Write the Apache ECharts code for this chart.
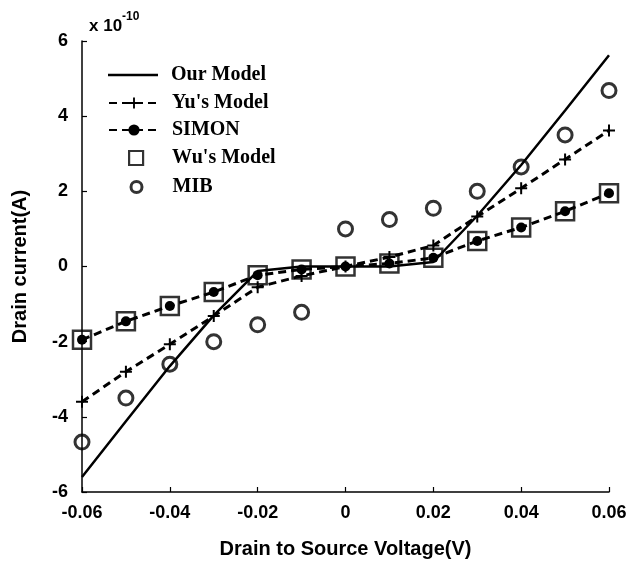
<!DOCTYPE html>
<html>
<head>
<meta charset="utf-8">
<script src="https://cdn.jsdelivr.net/npm/echarts@6/dist/echarts.min.js"></script>
<style>
  html, body { margin: 0; padding: 0; background: #fff; }
  #chart { width: 633px; height: 564px; }
</style>
</head>
<body>
<div id="chart"></div>
<script>
// Drain-source voltage sweep (V)
const vds = [-0.06, -0.05, -0.04, -0.03, -0.02, -0.01, 0, 0.01, 0.02, 0.03, 0.04, 0.05, 0.06];

// Drain current, in units of 1e-10 A
const ourModel = [-5.6, -4.12, -2.65, -1.3, -0.12, 0, 0, 0, 0.12, 1.35, 2.7, 4.15, 5.62];
const yuModel  = [-3.6, -2.8, -2.07, -1.32, -0.55, -0.25, 0, 0.25, 0.56, 1.33, 2.08, 2.85, 3.62];
const simon    = [-1.95, -1.46, -1.05, -0.68, -0.23, -0.08, 0, 0.08, 0.23, 0.68, 1.04, 1.47, 1.95];
const wuModel  = [-1.95, -1.46, -1.05, -0.68, -0.23, -0.08, 0, 0.08, 0.23, 0.68, 1.04, 1.47, 1.95];
const mib      = [-4.67, -3.5, -2.6, -2.0, -1.55, -1.22, 1.0, 1.25, 1.55, 2.0, 2.65, 3.5, 4.68];

const xTicks = [-0.06, -0.04, -0.02, 0, 0.02, 0.04, 0.06];
const yTicks = [-6, -4, -2, 0, 2, 4, 6];

const pairs = ys => vds.map((x, i) => [x, ys[i]]);

const SANS = '"Liberation Sans", Arial, sans-serif';
const SERIF = '"Liberation Serif", "Times New Roman", serif';
const PLUS = 'path://M5,0H7V5H12V7H7V12H5V7H0V5H5Z';

// One legend block per entry so every key can sit on its own row
function legendAt(item, left, top, w, h, padLeft) {
  return {
    data: [item], left: left, top: top, itemWidth: w, itemHeight: h, padding: 0,
    selectedMode: false, inactiveColor: '#000',
    textStyle: { fontFamily: SERIF, fontWeight: 'bold', fontSize: 20, color: '#000', padding: [0, 0, 0, padLeft] }
  };
}

const chart = echarts.init(document.getElementById('chart'), null, { renderer: 'canvas' });
chart.setOption({
  backgroundColor: '#fff',
  animation: false,
  title: {
    left: 84, top: 6,
    text: '{a|x 10}{b|-10}',
    textStyle: {
      rich: {
        a: { fontFamily: SANS, fontWeight: 'bold', fontSize: 17, color: '#000', verticalAlign: 'bottom', lineHeight: 24 },
        b: { fontFamily: SANS, fontWeight: 'bold', fontSize: 12, color: '#000', verticalAlign: 'top', lineHeight: 24, padding: [0, 0, 12, 0] }
      }
    }
  },
  legend: [
    legendAt({ name: 'Our Model', icon: 'path://M0,0H50V2.5H0Z', itemStyle: { color: '#000', borderWidth: 0 } },
             108, 65, 50, 14, 8),
    legendAt({ name: "Yu's Model" }, 108, 93, 50, 14, 8),
    legendAt({ name: 'SIMON' }, 108, 120, 50, 14, 8),
    legendAt({ name: "Wu's Model", icon: 'path://M0,0H10V10H0Z',
               itemStyle: { color: 'rgba(0,0,0,0)', borderColor: '#000', borderWidth: 2.2 } },
             128, 148, 14, 14, 24),
    legendAt({ name: 'MIB', icon: 'circle',
               itemStyle: { color: 'rgba(0,0,0,0)', borderColor: '#000', borderWidth: 3 } },
             129.5, 177, 11, 11, 25.5)
  ],
  grid: { left: 82, right: 24, top: 41, bottom: 72, containLabel: false },
  xAxis: {
    type: 'value', min: xTicks[0], max: xTicks[xTicks.length - 1], interval: 0.02,
    name: 'Drain to Source Voltage(V)', nameLocation: 'middle', nameGap: 47,
    nameTextStyle: { fontFamily: SANS, fontWeight: 'bold', fontSize: 20, color: '#000' },
    axisLine: { onZero: false, lineStyle: { color: '#000', width: 1.5 } },
    axisTick: { inside: true, length: 5, lineStyle: { color: '#000', width: 1.2 } },
    axisLabel: {
      margin: 12, fontFamily: SANS, fontWeight: 'bold', fontSize: 18, color: '#000',
      formatter: v => (Math.abs(v) < 1e-9 ? '0' : v.toFixed(2))
    },
    splitLine: { show: false }
  },
  yAxis: {
    type: 'value', min: yTicks[0], max: yTicks[yTicks.length - 1], interval: 2,
    name: 'Drain current(A)', nameLocation: 'middle', nameGap: 52, nameRotate: 90,
    nameTextStyle: { fontFamily: SANS, fontWeight: 'bold', fontSize: 20, color: '#000' },
    axisLine: { show: true, onZero: false, lineStyle: { color: '#000', width: 1.5 } },
    axisTick: { show: true, inside: true, length: 5, lineStyle: { color: '#000', width: 1.2 } },
    axisLabel: { margin: 14, fontFamily: SANS, fontWeight: 'bold', fontSize: 18, color: '#000' },
    splitLine: { show: false }
  },
  series: [
    {
      name: 'Our Model', type: 'line', data: pairs(ourModel),
      showSymbol: false, symbol: 'none',
      lineStyle: { color: '#000', width: 2.5, type: 'solid' },
      itemStyle: { color: '#000' }
    },
    {
      name: "Yu's Model", type: 'line', data: pairs(yuModel),
      symbol: PLUS, symbolSize: 12,
      lineStyle: { color: '#000', width: 3, type: [8, 5] },
      itemStyle: { color: '#000' }
    },
    {
      name: 'SIMON', type: 'line', data: pairs(simon),
      symbol: 'circle', symbolSize: 10,
      lineStyle: { color: '#000', width: 3, type: [8, 5] },
      itemStyle: { color: '#000' }
    },
    {
      name: "Wu's Model", type: 'scatter', data: pairs(wuModel),
      symbol: 'rect', symbolSize: 18,
      itemStyle: { color: 'rgba(0,0,0,0)', borderColor: '#000', borderWidth: 2.5 }
    },
    {
      name: 'MIB', type: 'scatter', data: pairs(mib),
      symbol: 'circle', symbolSize: 14,
      itemStyle: { color: 'rgba(0,0,0,0)', borderColor: '#000', borderWidth: 3 }
    }
  ]
});
</script>
</body>
</html>
